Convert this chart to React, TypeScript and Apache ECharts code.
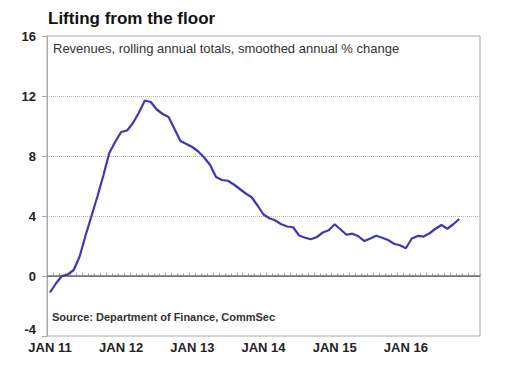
import React, { useEffect, useRef } from "react";
import * as echarts from "echarts";

const MONTHS = ["JAN","FEB","MAR","APR","MAY","JUN","JUL","AUG","SEP","OCT","NOV","DEC"];
// Jan 2011 .. Jan 2017 (73 monthly slots)
const categories: string[] = [];
for (let y = 11; y <= 17; y++) {
  for (let m = 0; m < 12; m++) {
    if (y === 17 && m > 0) break;
    categories.push(`${MONTHS[m]} ${y}`);
  }
}

const revenueChange = [
  -1.1, -0.5, 0.0, 0.1, 0.4, 1.3, 2.7, 4.0, 5.3, 6.7, 8.2, 8.95,
  9.6, 9.7, 10.2, 10.9, 11.7, 11.6, 11.1, 10.8, 10.6, 9.8, 9.0, 8.8,
  8.6, 8.3, 7.9, 7.4, 6.6, 6.4, 6.35, 6.1, 5.8, 5.5, 5.25, 4.7,
  4.1, 3.85, 3.7, 3.45, 3.3, 3.25, 2.7, 2.55, 2.45, 2.6, 2.9, 3.05,
  3.45, 3.1, 2.75, 2.82, 2.65, 2.33, 2.5, 2.68, 2.55, 2.4, 2.15, 2.05,
  1.85, 2.5, 2.67, 2.63, 2.85, 3.15, 3.4, 3.15, 3.45, 3.8,
];

const gridValues = [4, 8, 12];
const zeroValue = 0;

const TITLE = "Lifting from the floor";
const SUBTITLE = "Revenues, rolling annual totals, smoothed annual % change";
const SOURCE = "Source: Department of Finance, CommSec";

const FONT = "'Liberation Sans', Arial, sans-serif";

export default function App() {
  const ref = useRef<HTMLDivElement>(null);
  useEffect(() => {
    if (!ref.current) return;
    const chart = echarts.init(ref.current, null, { renderer: "svg" });
    chart.setOption({
      animation: false,
      backgroundColor: "#ffffff",
      textStyle: { fontFamily: FONT },
      title: [
        {
          text: TITLE,
          left: 48,
          top: 10,
          textStyle: { fontFamily: FONT, fontSize: 17, fontWeight: "bold", color: "#111" },
          padding: 0,
        },
        {
          text: SUBTITLE,
          left: 53,
          top: 42,
          textStyle: { fontFamily: FONT, fontSize: 13, fontWeight: "normal", color: "#333" },
          padding: 0,
        },
        {
          text: SOURCE,
          left: 52,
          top: 311,
          textStyle: { fontFamily: FONT, fontSize: 11, fontWeight: "bold", color: "#333" },
          padding: 0,
        },
      ],
      grid: {
        left: 47,
        right: 27,
        top: 36,
        bottom: 36,
        show: true,
        borderColor: "#a8a8a8",
        borderWidth: 1,
        backgroundColor: "transparent",
      },
      xAxis: {
        type: "category",
        data: categories,
        boundaryGap: true,
        axisLine: { show: true, lineStyle: { color: "#a8a8a8", width: 1 } },
        axisTick: { show: true, inside: true, interval: 0, length: 3, lineStyle: { color: "#b0b0b0" } },
        axisLabel: {
          interval: (idx: number) => idx % 12 === 0 && idx < 72,
          margin: 5,
          fontFamily: FONT,
          fontSize: 13,
          fontWeight: "bold",
          color: "#222",
        },
        splitLine: { show: false },
      },
      yAxis: {
        type: "value",
        min: -4,
        max: 16,
        interval: 4,
        axisLine: { show: true, lineStyle: { color: "#a8a8a8" } },
        axisTick: { show: true, length: 5, lineStyle: { color: "#a8a8a8" } },
        axisLabel: {
          margin: 11,
          fontFamily: FONT,
          fontSize: 13,
          fontWeight: "bold",
          color: "#222",
          verticalAlignMinLabel: "bottom",
        },
        splitLine: { show: false },
      },
      series: [
        {
          type: "line",
          data: revenueChange,
          symbol: "none",
          lineStyle: { color: "#3f37b8", width: 2.2 },
          z: 5,
          markLine: {
            silent: true,
            symbol: "none",
            label: { show: false },
            z: 1,
            data: [
              ...gridValues.map((v) => ({
                yAxis: v,
                lineStyle: { color: "#b5b5b5", type: "dotted", width: 1 },
              })),
              { yAxis: zeroValue, lineStyle: { color: "#6a6a6a", type: "solid", width: 1.5 } },
            ],
          },
        },
      ],
    });
    return () => chart.dispose();
  }, []);
  return <div ref={ref} style={{ width: 507, height: 372, margin: -8 }} />;
}
